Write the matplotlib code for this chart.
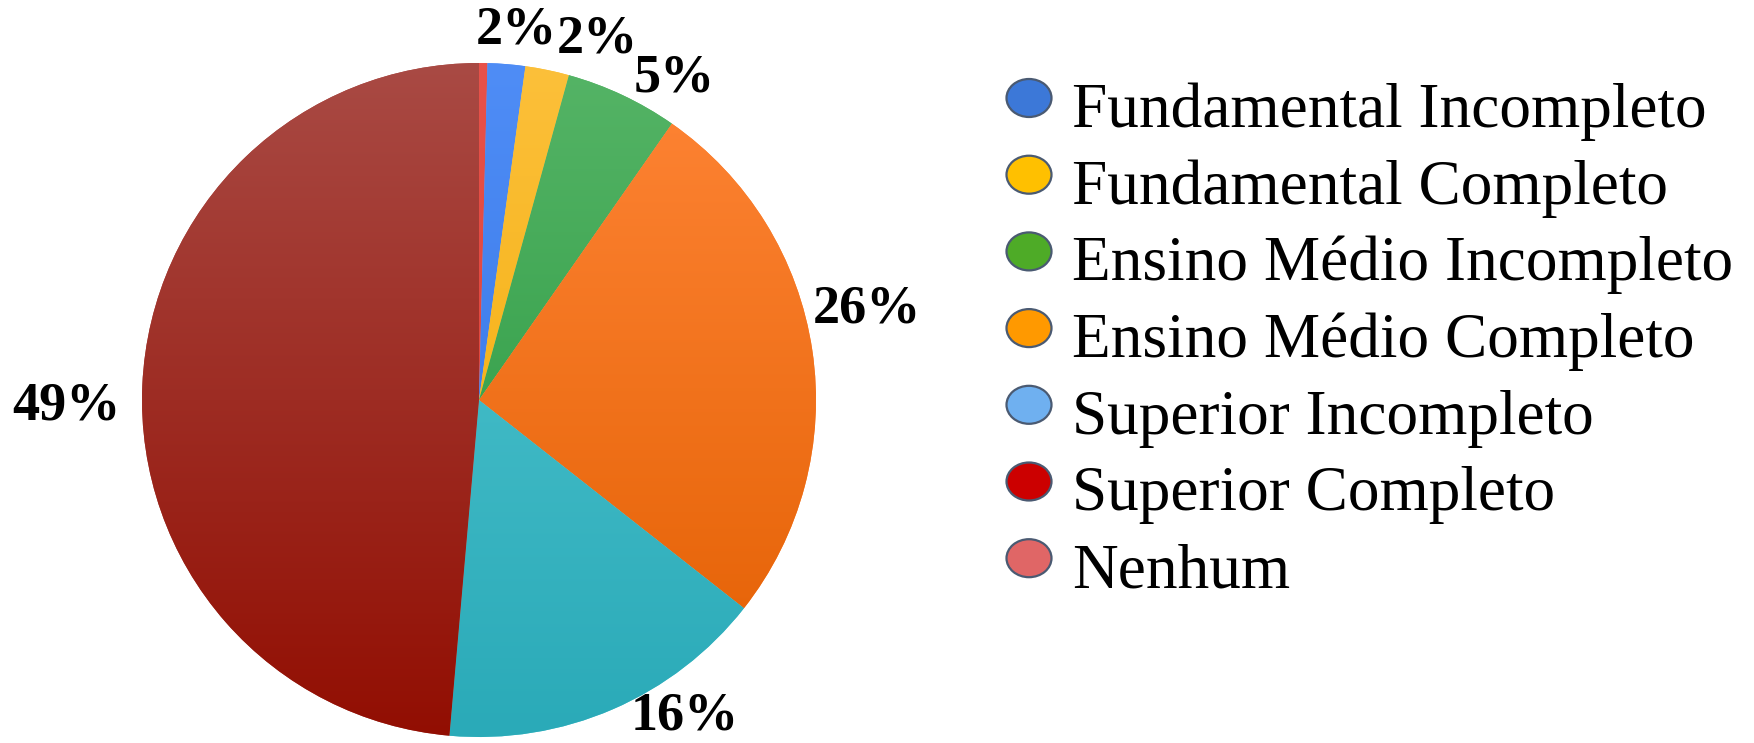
import numpy as np
import matplotlib
matplotlib.use("Agg")
import matplotlib.pyplot as plt
from matplotlib.patches import Ellipse
from matplotlib.colors import to_rgb

# ---- data ----
categories = ["Nenhum", "Fundamental Incompleto", "Fundamental Completo",
              "Ensino Médio Incompleto", "Ensino Médio Completo",
              "Superior Incompleto", "Superior Completo"]
values = [0.4, 1.8, 2.1, 5.4, 25.9, 15.8, 48.6]
pct_labels = ["", "2%", "2%", "5%", "26%", "16%", "49%"]

legend_order = ["Fundamental Incompleto", "Fundamental Completo",
                "Ensino Médio Incompleto", "Ensino Médio Completo",
                "Superior Incompleto", "Superior Completo", "Nenhum"]

# ---- styles ----
wedge_top = {"Nenhum": "#e8524a", "Fundamental Incompleto": "#4f8df6",
             "Fundamental Completo": "#fcc03a", "Ensino Médio Incompleto": "#55b466",
             "Ensino Médio Completo": "#ff8536", "Superior Incompleto": "#55c8d2",
             "Superior Completo": "#a94a44"}
wedge_bot = {"Nenhum": "#d83a30", "Fundamental Incompleto": "#2f6fe0",
             "Fundamental Completo": "#f0a800", "Ensino Médio Incompleto": "#22943a",
             "Ensino Médio Completo": "#e25e00", "Superior Incompleto": "#2aaab8",
             "Superior Completo": "#920e02"}
legend_colors = {"Fundamental Incompleto": "#3c78d8", "Fundamental Completo": "#ffc000",
                 "Ensino Médio Incompleto": "#4eab27", "Ensino Médio Completo": "#ff9900",
                 "Superior Incompleto": "#6fb0f0", "Superior Completo": "#cc0000",
                 "Nenhum": "#e06666"}
# label positions in pie-radius units
label_pos = [None, (0.11, 1.095), (0.35, 1.07), (0.58, 0.955),
             (1.15, 0.27), (0.61, -0.94), (-1.225, -0.02)]

W, H = 1754, 743
fig = plt.figure(figsize=(W / 100, H / 100), dpi=100)
fig.patch.set_facecolor("white")

cx, cy, r = 479, 400, 337
ax = fig.add_axes([(cx - r) / W, (H - cy - r) / H, 2 * r / W, 2 * r / H])

wedges, _ = ax.pie(values, startangle=90, counterclock=False, radius=1,
                   colors=[wedge_top[c] for c in categories],
                   wedgeprops=dict(linewidth=0))
ax.set_aspect("equal")
ax.axis("off")

n = 300
yy = np.linspace(1, 0, n)[:, None]
for w, c in zip(wedges, categories):
    t = np.array(to_rgb(wedge_top[c]))
    b = np.array(to_rgb(wedge_bot[c]))
    img = (t[None, None, :] * yy[..., None] + b[None, None, :] * (1 - yy[..., None]))
    img = np.repeat(img, 2, axis=1)
    im = ax.imshow(img, extent=(-1, 1, -1, 1), origin="upper", aspect="auto",
                   interpolation="bilinear", zorder=w.get_zorder() + 0.5)
    im.set_clip_path(w)
ax.set_xlim(-1, 1)
ax.set_ylim(-1, 1)

for lab, pos in zip(pct_labels, label_pos):
    if lab and pos is not None:
        ax.text(pos[0], pos[1], lab, ha="center", va="center", fontsize=39,
                fontweight="bold", family="Liberation Serif", clip_on=False,
                zorder=10)

# legend
lax = fig.add_axes([0, 0, 1, 1])
lax.set_xlim(0, W)
lax.set_ylim(H, 0)
lax.axis("off")
y0, dy = 98, 76.7
for i, c in enumerate(legend_order):
    y = y0 + i * dy
    lax.add_patch(Ellipse((1029, y), 45, 38, facecolor=legend_colors[c],
                          edgecolor="#4a5a72", linewidth=1.6))
    lax.text(1072, y + 29, c, ha="left", va="baseline", fontsize=45.5,
             family="Liberation Serif", color="black")

fig.savefig("out.png", dpi=100, facecolor="white")
